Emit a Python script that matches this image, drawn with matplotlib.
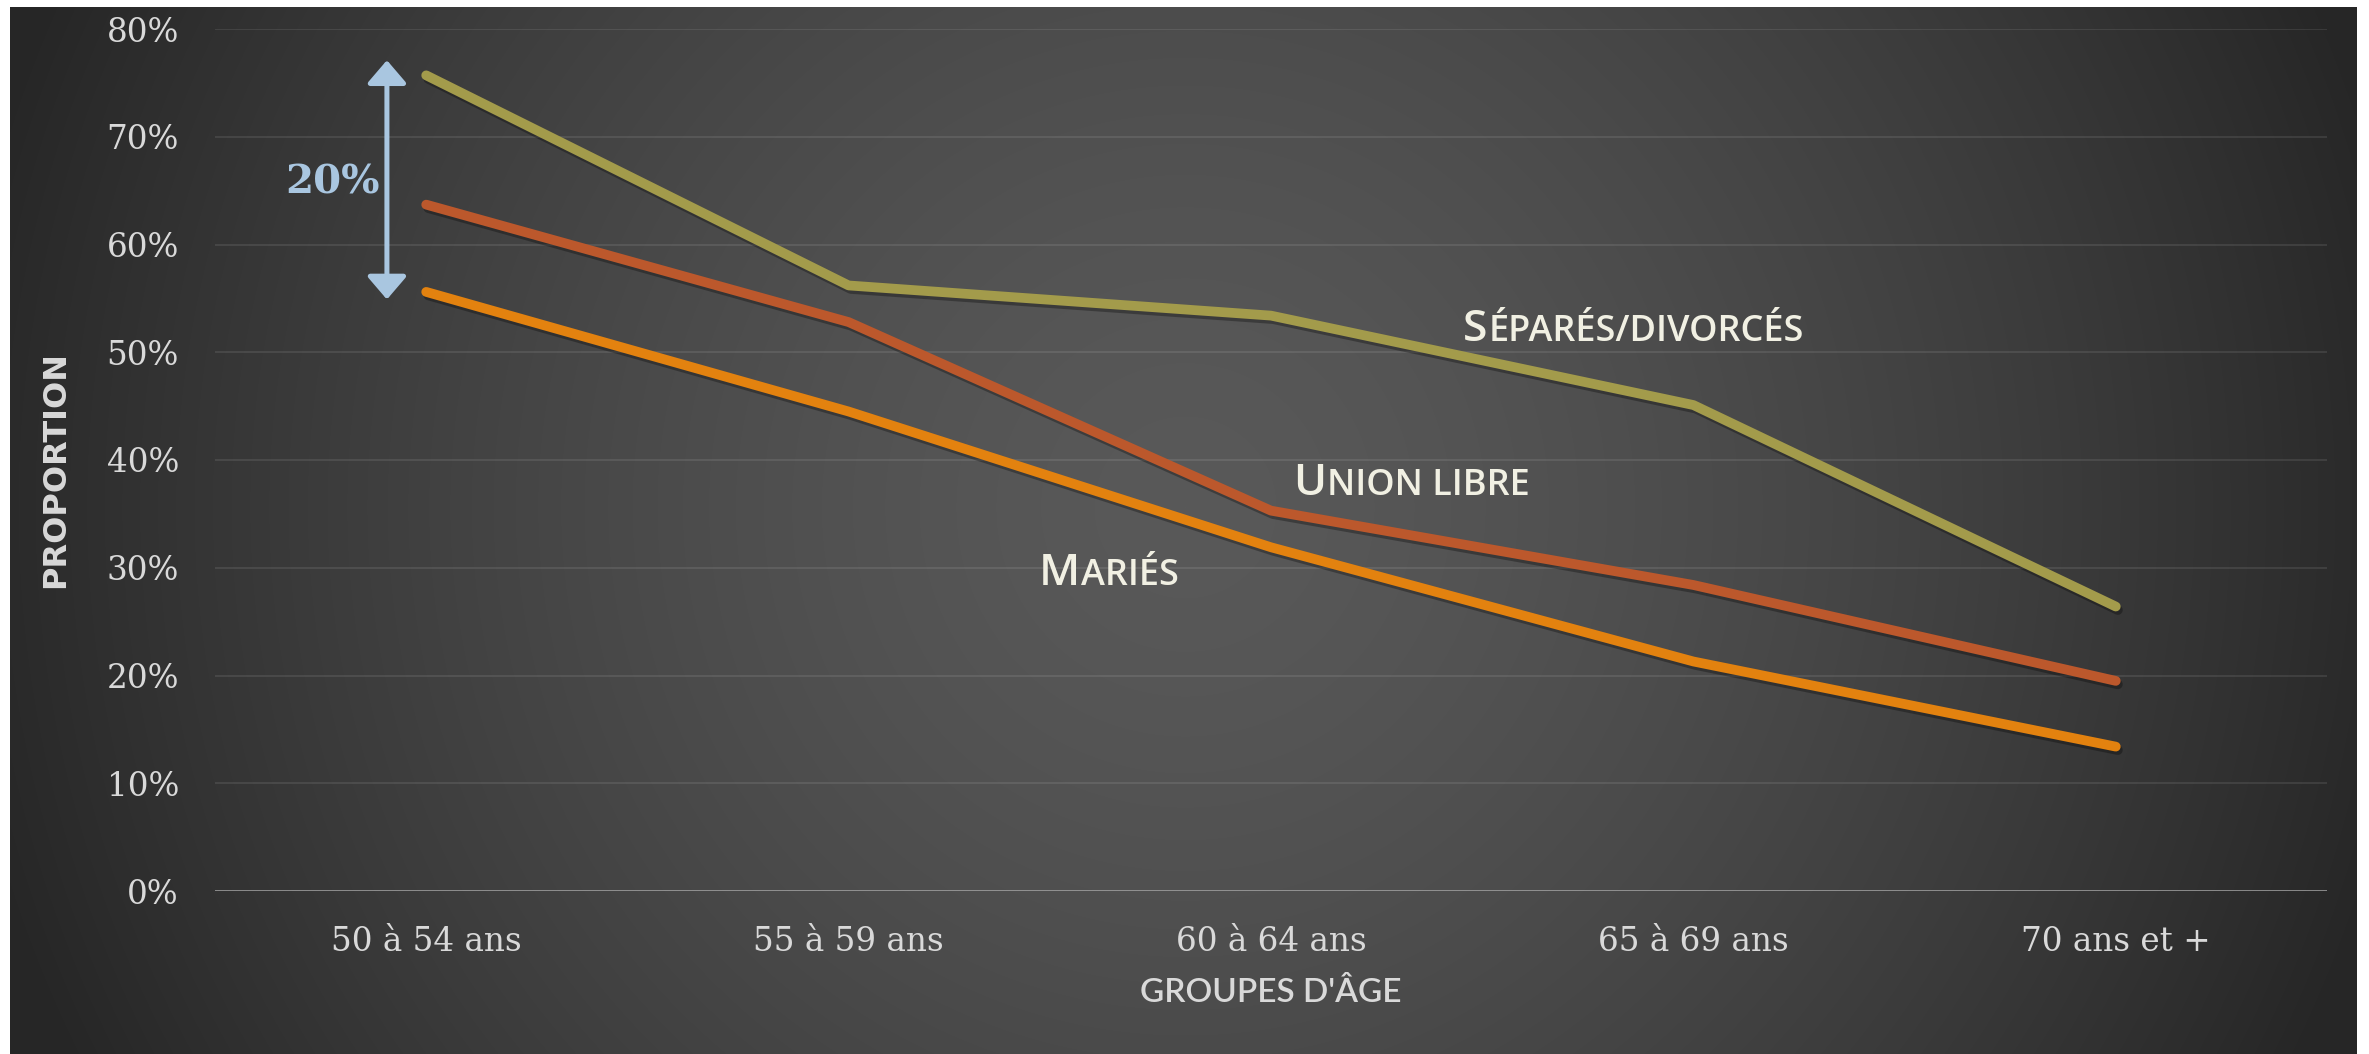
import matplotlib.pyplot as plt
import matplotlib.patheffects as pe
from matplotlib.transforms import offset_copy
import numpy as np

categories = ["50 à 54 ans", "55 à 59 ans", "60 à 64 ans", "65 à 69 ans", "70 ans et +"]
separes = [0.757, 0.562, 0.534, 0.451, 0.264]
union_libre = [0.637, 0.528, 0.353, 0.284, 0.195]
maries = [0.556, 0.445, 0.319, 0.213, 0.134]
yticks = [0, 0.1, 0.2, 0.3, 0.4, 0.5, 0.6, 0.7, 0.8]

W, H = 2369, 1054
fig = plt.figure(figsize=(W / 100, H / 100), dpi=100)
fig.patch.set_facecolor("white")

# radial background
bg = fig.add_axes([10 / W, 0, (W - 22) / W, 1 - 7 / H], zorder=-10)
yy, xx = np.mgrid[0:H - 7, 0:W - 22]
d = np.sqrt((xx - 1175) ** 2 + (yy - 500) ** 2) / 1250
t = np.clip(d, 0, 1) ** 1.5
c0, c1 = 0x59 / 255, 0x26 / 255
img = c0 + (c1 - c0) * t
bg.imshow(np.dstack([img, img, img]), aspect="auto", interpolation="bilinear")
bg.axis("off")

ax = fig.add_axes([215 / W, 1 - 891 / H, (2327 - 215) / W, (891 - 29) / H])
ax.patch.set_alpha(0)
x = np.arange(len(categories))

shadow = [pe.SimpleLineShadow(offset=(1.5, -2.5), shadow_color="k", alpha=0.3), pe.Normal()]
ax.plot(x, separes, color="#a39b4b", lw=7, solid_capstyle="round", solid_joinstyle="round", path_effects=shadow, zorder=3)
ax.plot(x, union_libre, color="#bc582c", lw=7, solid_capstyle="round", solid_joinstyle="round", path_effects=shadow, zorder=3)
ax.plot(x, maries, color="#e3820f", lw=7, solid_capstyle="round", solid_joinstyle="round", path_effects=shadow, zorder=3)

ax.set_xlim(-0.5, len(categories) - 0.5)
ax.set_ylim(0, 0.8)
ax.set_yticks(yticks)
ax.set_yticklabels([f"{int(round(v * 100))}%" for v in yticks])
ax.set_xticks(x)
ax.set_xticklabels(categories)
for s in ax.spines.values():
    s.set_visible(False)
ax.tick_params(length=0, labelsize=23.5, labelcolor="#d9d9d9")
ax.tick_params(axis="y", pad=26)
ax.tick_params(axis="x", pad=25)
for lab in ax.get_xticklabels() + ax.get_yticklabels():
    lab.set_family("DejaVu Serif")
for v in yticks[1:]:
    ax.axhline(v, color="white", alpha=0.09, lw=1.5, zorder=1)
ax.axhline(0, color="#a6a6a6", lw=1.8, zorder=2)

# axis titles
fig.text(1271 / W, 1 - 1002 / H, "GROUPES D'ÂGE", ha="center", va="baseline",
         color="#d9d9d9", fontsize=24, family="Lato", fontweight="semibold")
fig.text(56 / W, 1 - 470 / H, "PROPORTION", rotation=90, ha="center", va="center",
         color="#d9d9d9", fontsize=23, family="DejaVu Sans", fontweight="semibold")

# small caps labels
fig.canvas.draw()
renderer = fig.canvas.get_renderer()


def small_caps(xd, yd, word):
    first = ax.text(xd, yd, word[0], color="#f1f0e3", fontsize=32, family="Open Sans",
                    fontweight="semibold", va="baseline", ha="left", zorder=5)
    w = first.get_window_extent(renderer).width * 72 / fig.dpi
    tr = offset_copy(ax.transData, fig=fig, x=w + 0.5, y=0, units="points")
    ax.text(xd, yd, word[1:].upper(), color="#f1f0e3", fontsize=26, family="Open Sans",
            fontweight="semibold", va="baseline", ha="left", transform=tr, zorder=5)


small_caps(2.455, 0.510, "Séparés/divorcés")
small_caps(2.052, 0.3675, "Union libre")
small_caps(1.451, 0.284, "Mariés")

# 20% span arrow
arrow_x = -0.093
ax.annotate("", xy=(arrow_x, 0.771), xytext=(arrow_x, 0.549),
            arrowprops=dict(arrowstyle="<|-|>,head_length=14,head_width=12",
                            mutation_scale=1, color="#a9c6e0", lw=3.6,
                            shrinkA=0, shrinkB=0), zorder=4)
ax.text(-0.223, 0.658, "20%", ha="center", va="center", color="#a9c6e0",
        fontsize=29, fontweight="bold", family="DejaVu Serif")

fig.savefig("out.png", dpi=100)
